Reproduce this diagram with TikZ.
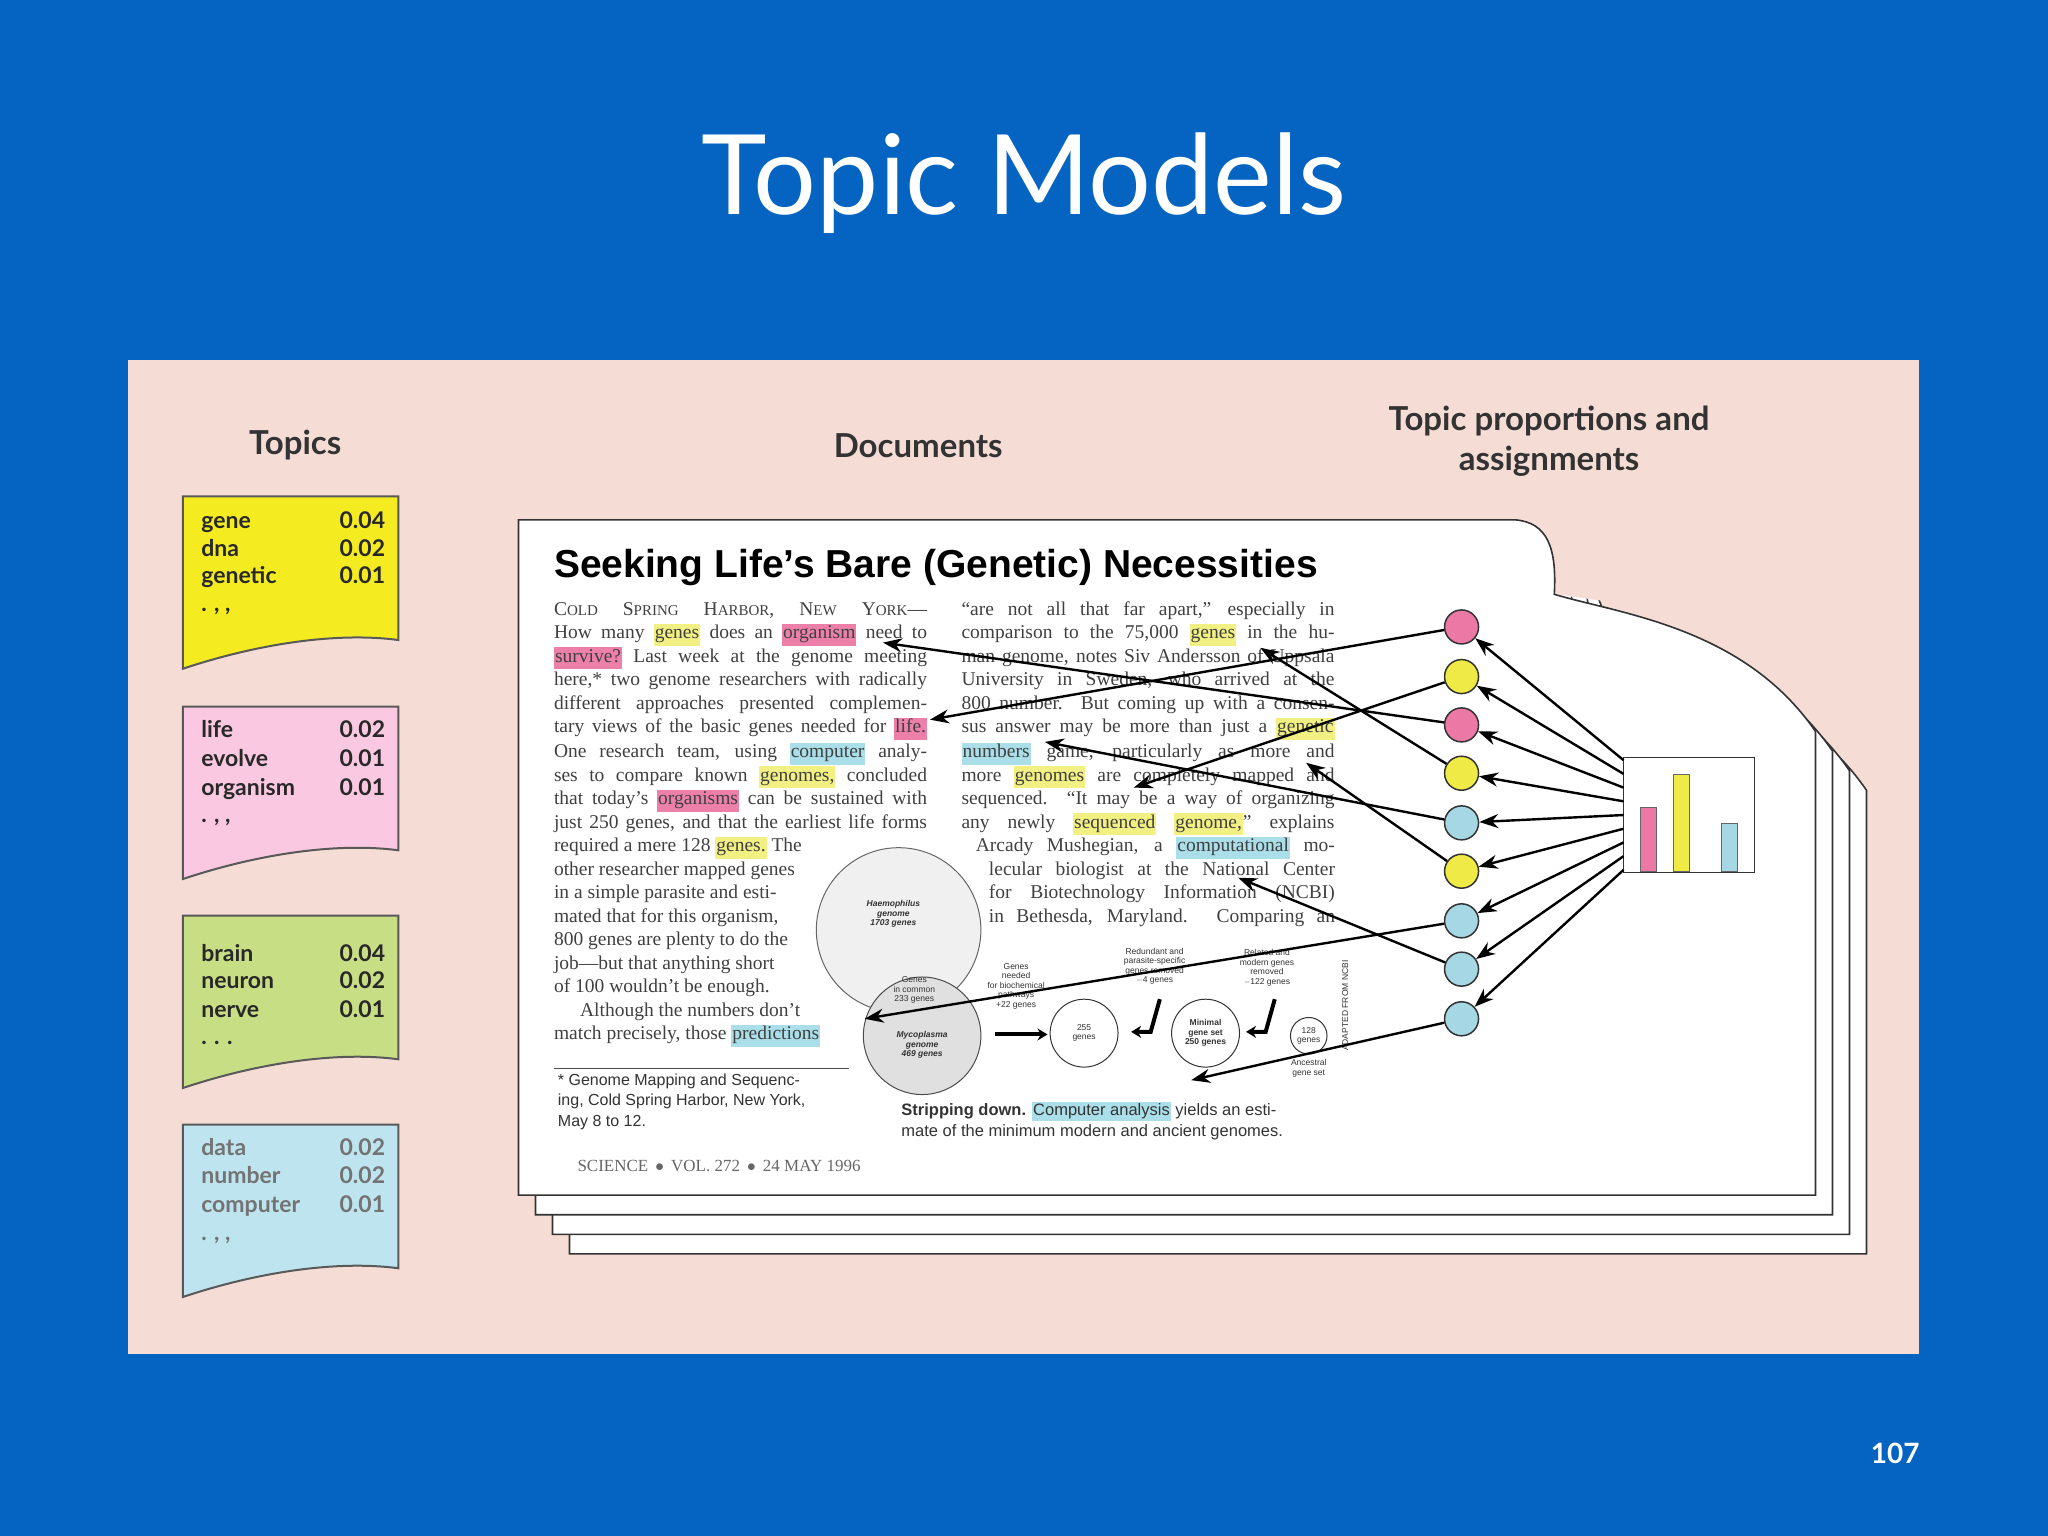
\documentclass[tikz,border=0pt]{standalone}
\usepackage{fontspec}
\setmainfont{Liberation Serif}
\newfontfamily\lato{Lato}
\newfontfamily\lsans{Liberation Sans}
\usetikzlibrary{arrows.meta}
\definecolor{bgblue}{RGB}{5,99,193}
\definecolor{panel}{RGB}{245,221,213}
\definecolor{cY}{RGB}{244,236,32}
\definecolor{cP}{RGB}{250,200,225}
\definecolor{cG}{RGB}{200,222,132}
\definecolor{cB}{RGB}{190,228,240}
\definecolor{hY}{RGB}{242,240,130}
\definecolor{hP}{RGB}{236,128,168}
\definecolor{hB}{RGB}{170,222,232}
\definecolor{dY}{RGB}{240,234,70}
\definecolor{dP}{RGB}{236,120,165}
\definecolor{dB}{RGB}{165,215,228}
\definecolor{ink}{RGB}{40,40,40}
\setlength\fboxsep{1pt}
\newcommand\hy[1]{\colorbox{hY}{\strut #1}}
\newcommand\hp[1]{\colorbox{hP}{\strut #1}}
\newcommand\hb[1]{\colorbox{hB}{\strut #1}}
\newcommand\LLine[3]{\node[anchor=base west,inner sep=0] at (#1,#2) {\makebox[373pt][s]{#3}};}
\newcommand\NLine[3]{\node[anchor=base west,inner sep=0] at (#1,#2) {#3};}
\newcommand\sm[1]{{\fontsize{15}{15}\selectfont #1}}
\tikzset{
 card/.style={draw=black!65,line width=2pt},
 word/.style={anchor=base west,inner sep=0,font=\lato\bfseries\fontsize{23}{23}\selectfont,text=ink},
 prob/.style={anchor=base east,inner sep=0,font=\lato\bfseries\fontsize{23}{23}\selectfont,text=ink},
 hdr/.style={font=\lato\bfseries\fontsize{33}{40}\selectfont,text=black!80,align=center},
 dot/.style={circle,draw=black!80,line width=1.5pt,minimum size=34pt,inner sep=0},
 arr/.style={line width=2.4pt,-{Stealth[length=19pt,width=14pt]}},
 page/.style={draw=black!80,fill=white,line width=1.6pt},
 tiny/.style={font=\lsans\fontsize{8.5}{9.5}\selectfont,align=center,inner sep=0,text=black!80}
}
\begin{document}
\begin{tikzpicture}[x=1.306pt,y=-1.306pt]
\fill[bgblue] (0,0) rectangle (1568,1176);
\useasboundingbox (0,0) rectangle (1568,1176);
\node[font=\lato\fontsize{111}{111}\selectfont,text=white] (title) at (784,140) {Topic Models};
\node[font=\lato\bfseries\fontsize{28}{28}\selectfont,text=white] (pnum) at (1451,1113) {107};
\fill[panel] (98,276) rectangle (1469,1037);
\node[hdr] (h1) at (226,341) {Topics};
\node[hdr] (h2) at (703,341) {Documents};
\node[hdr] (h3) at (1186,338) {Topic proportions and\\assignments};
% cards
\foreach \y/\c in {380/cY,541/cP,701/cG,861/cB}{
 \draw[card,fill=\c] (140,\y) -- (305,\y) -- (305,\y+110) .. controls (260,\y+104) and (200,\y+112) .. (140,\y+132) -- cycle;
}
\node[word] (w1) at (154,405) {gene};\node[prob] (p1) at (295,405) {0.04};
\node[word] (w2) at (154,426) {dna};\node[prob] (p2) at (295,426) {0.02};
\node[word] (w3) at (154,447) {genetic};\node[prob] (p3) at (295,447) {0.01};
\node[word] (w4) at (154,468) {. , ,};
\node[word] (w5) at (154,565) {life};\node[prob] (p5) at (295,565) {0.02};
\node[word] (w6) at (154,587) {evolve};\node[prob] (p6) at (295,587) {0.01};
\node[word] (w7) at (154,609) {organism};\node[prob] (p7) at (295,609) {0.01};
\node[word] (w8) at (154,630) {. , ,};
\node[word] (w9) at (154,736) {brain};\node[prob] (p9) at (295,736) {0.04};
\node[word] (w10) at (154,757) {neuron};\node[prob] (p10) at (295,757) {0.02};
\node[word] (w11) at (154,779) {nerve};\node[prob] (p11) at (295,779) {0.01};
\node[word] (w12) at (154,800) {. . .};
\node[word,text=black!55] (w13) at (154,885) {data};\node[prob,text=black!55] (p13) at (295,885) {0.02};
\node[word,text=black!55] (w14) at (154,906) {number};\node[prob,text=black!55] (p14) at (295,906) {0.02};
\node[word,text=black!55] (w15) at (154,928) {computer};\node[prob,text=black!55] (p15) at (295,928) {0.01};
\node[word,text=black!55] (w16) at (154,950) {. , ,};
% pages
\begin{scope}
\clip (0,0) -- (1160,0) -- (1160,398) .. controls (1185,400) and (1192,420) .. (1190,455) -- (1300,470) -- (1568,470) -- (1568,1176) -- (0,1176) -- cycle;
\foreach \i in {3,2,1}{
 \draw[page,shift={(13*\i,15*\i)}] (397,398) -- (1160,398) .. controls (1185,400) and (1192,420) .. (1190,455) .. controls (1240,470) and (1335,480) .. (1390,560) -- (1390,915) -- (397,915) -- cycle;
}
\end{scope}
\draw[page] (397,398) -- (1160,398) .. controls (1185,400) and (1192,420) .. (1190,455) .. controls (1240,470) and (1335,480) .. (1390,560) -- (1390,915) -- (397,915) -- cycle;
\node[anchor=base west,inner sep=0,font=\lsans\bfseries\fontsize{39}{39}\selectfont] (atitle) at (424,442) {Seeking Life’s Bare (Genetic) Necessities};
% body text
\begin{scope}[every node/.style={font=\fontsize{19.5}{20}\selectfont,text=black!75}]
\LLine{424}{471}{C\sm{OLD} S\sm{PRING} H\sm{ARBOR}, N\sm{EW} Y\sm{ORK}—}
\LLine{424}{489}{How many \hy{genes} does an \hp{organism} need to}
\LLine{424}{507}{\hp{survive?} Last week at the genome meeting}
\LLine{424}{525}{here,* two genome researchers with radically}
\LLine{424}{543}{different approaches presented complemen-}
\LLine{424}{561}{tary views of the basic genes needed for \hp{life.}}
\LLine{424}{580}{One research team, using \hb{computer} analy-}
\LLine{424}{598}{ses to compare known \hy{genomes,} concluded}
\LLine{424}{616}{that today’s \hp{organisms} can be sustained with}
\LLine{424}{634}{just 250 genes, and that the earliest life forms}
\NLine{424}{652}{required a mere 128 \hy{genes.} The}
\NLine{424}{670}{other researcher mapped genes}
\NLine{424}{688}{in a simple parasite and esti-}
\NLine{424}{706}{mated that for this organism,}
\NLine{424}{724}{800 genes are plenty to do the}
\NLine{424}{742}{job—but that anything short}
\NLine{424}{760}{of 100 wouldn’t be enough.}
\NLine{444}{778}{Although the numbers don’t}
\NLine{424}{796}{match precisely, those \hb{predictions}}
\LLine{736}{471}{“are not all that far apart,” especially in}
\LLine{736}{489}{comparison to the 75,000 \hy{genes} in the hu-}
\LLine{736}{507}{man genome, notes Siv Andersson of Uppsala}
\LLine{736}{525}{University in Sweden, who arrived at the}
\LLine{736}{543}{800 number. But coming up with a consen-}
\LLine{736}{561}{sus answer may be more than just a \hy{genetic}}
\LLine{736}{580}{\hb{numbers} game, particularly as more and}
\LLine{736}{598}{more \hy{genomes} are completely mapped and}
\LLine{736}{616}{sequenced. “It may be a way of organizing}
\LLine{736}{634}{any newly \hy{sequenced} \hy{genome,}” explains}
\node[anchor=base west,inner sep=0] at (747,652) {\makebox[359pt][s]{Arcady Mushegian, a \hb{computational} mo-}};
\node[anchor=base west,inner sep=0] at (757,670) {\makebox[346pt][s]{lecular biologist at the National Center}};
\node[anchor=base west,inner sep=0] at (757,688) {\makebox[346pt][s]{for Biotechnology Information (NCBI)}};
\node[anchor=base west,inner sep=0] at (757,706) {\makebox[346pt][s]{in Bethesda, Maryland. Comparing an}};
\end{scope}
% figure
\draw[black!60,fill=black!6,line width=1pt] (688,712) circle (63);
\draw[black!70,fill=black!12,line width=1pt] (706,793) circle (45);
\node[tiny,font=\lsans\bfseries\itshape\fontsize{8.5}{9.5}\selectfont] (hae) at (684,700) {Haemophilus\\genome\\1703 genes};
\node[tiny] (com) at (700,758) {Genes\\in common\\233 genes};
\node[tiny,font=\lsans\bfseries\itshape\fontsize{8.5}{9.5}\selectfont] (myc) at (706,800) {Mycoplasma\\genome\\469 genes};
\draw[black!80,line width=1pt] (830,791) circle (26);
\node[tiny] (g255) at (830,791) {255\\genes};
\draw[black!80,line width=1pt] (923,791) circle (26);
\node[tiny,font=\lsans\bfseries\fontsize{8.5}{9.5}\selectfont] (g250) at (923,791) {Minimal\\gene set\\250 genes};
\draw[black!80,line width=1pt] (1002,793) circle (14);
\node[tiny] (g128) at (1002,793) {128\\genes};
\node[tiny] (t22) at (778,755) {Genes\\needed\\for biochemical\\pathways\\+22 genes};
\node[tiny] (t4) at (884,740) {Redundant and\\parasite-specific\\genes removed\\$-$4 genes};
\node[tiny] (t122) at (970,741) {Related and\\modern genes\\removed\\$-$122 genes};
\node[tiny] (tanc) at (1002,818) {Ancestral\\gene set};
\node[tiny,rotate=90] (ncbi) at (1030,770) {ADAPTED FROM NCBI};
\draw[line width=4pt,-{Stealth[length=10pt,width=12pt]}] (762,792) -- (802,792);
\draw[line width=4pt,-{Stealth[length=10pt,width=12pt]}] (888,765) -- (881,790) -- (866,790);
\draw[line width=4pt,-{Stealth[length=10pt,width=12pt]}] (976,765) -- (969,790) -- (954,790);
\draw[black!70,line width=1pt] (424,818) -- (650,818);
\node[anchor=north west,inner sep=0,align=left,font=\lsans\fontsize{16}{20.5}\selectfont,text=black!80] (foot) at (427,822) {* Genome Mapping and Sequenc-\\ing, Cold Spring Harbor, New York,\\May 8 to 12.};
\node[anchor=base west,inner sep=0,font=\lsans\fontsize{16.5}{16}\selectfont,text=black!80] (cap1) at (690,854) {\textbf{Stripping down.} \hb{Computer analysis} yields an esti-};
\node[anchor=base west,inner sep=0,font=\lsans\fontsize{16.5}{16}\selectfont,text=black!80] (cap2) at (690,870) {mate of the minimum modern and ancient genomes.};
\node[anchor=base west,inner sep=0,font=\fontsize{17}{17}\selectfont,text=black!60] (sci) at (442,897) {SCIENCE \,$\bullet$\, VOL. 272 \,$\bullet$\, 24 MAY 1996};
% histogram
\node[draw=black!80,fill=white,line width=1.5pt,minimum width=131pt,minimum height=115pt,inner sep=0] (hist) at (1293,624) {};
\fill[dP,draw=black!60] (1256,618) rectangle (1268,667);
\fill[dY,draw=black!60] (1281,593) rectangle (1293,667);
\fill[dB,draw=black!60] (1318,630) rectangle (1330,667);
% circles
\foreach \n/\y/\c in {1/480/dP,2/518/dY,3/555/dP,4/592/dY,5/630/dB,6/667/dY,7/705/dB,8/742/dB,9/780/dB}{
 \node[dot,fill=\c] (c\n) at (1119,\y) {};
 \coordinate (h\n) at (1243,{582+(\n-1)*10.5});
 \draw[arr] (h\n) -- (c\n);
}
% targets
\coordinate (t1) at (712,551);
\coordinate (t2) at (868,603);
\coordinate (t3) at (676,492);
\coordinate (t4) at (965,496);
\coordinate (t5) at (800,568);
\coordinate (t6) at (1000,584);
\coordinate (t7) at (662,780);
\coordinate (t8) at (948,672);
\coordinate (t9) at (912,827);
\foreach \n in {1,...,9}{\draw[arr] (c\n) -- (t\n);}
\end{tikzpicture}
\end{document}
